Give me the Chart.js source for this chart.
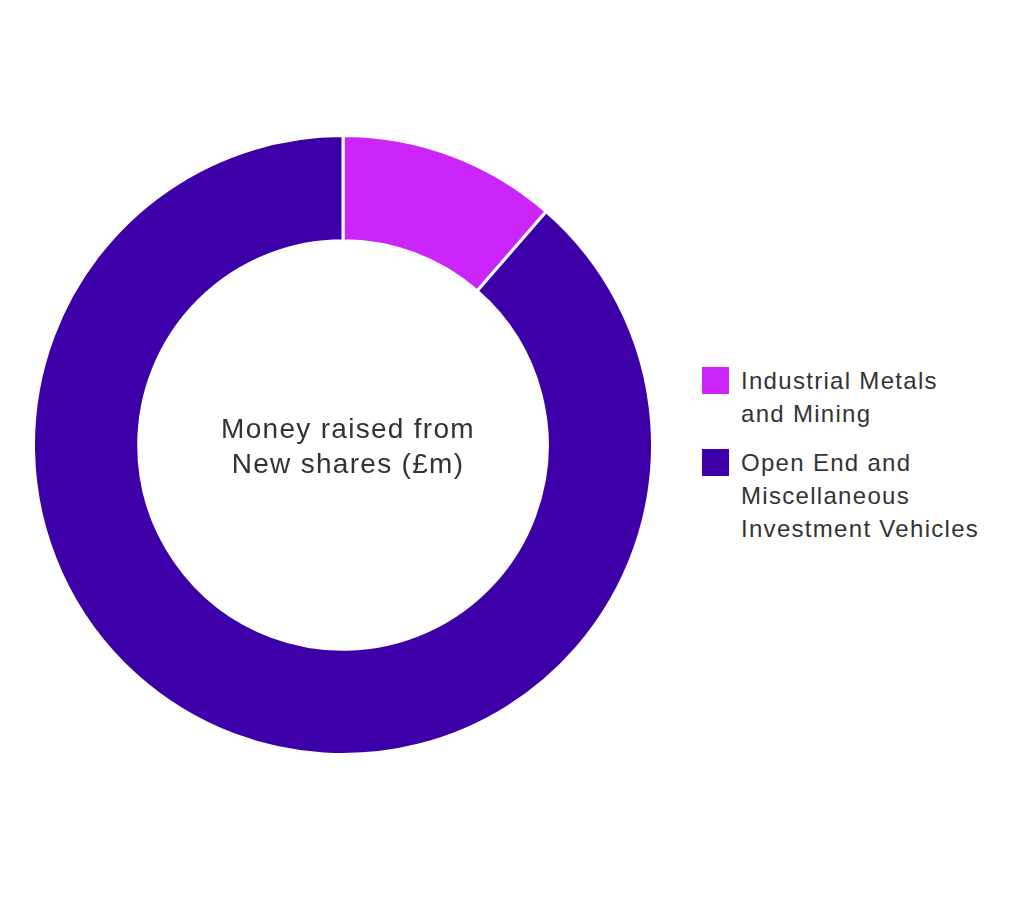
<!DOCTYPE html>
<html>
<head>
<meta charset="utf-8">
<script src="https://cdn.jsdelivr.net/npm/chart.js@4/dist/chart.umd.min.js"></script>
<style>
  body { margin: 0; background: #fff; font-family: "Liberation Sans", Arial, sans-serif; color: #333; }
  #wrap { position: relative; width: 1024px; height: 924px; }
  #donut { position: absolute; left: 32px; top: 134px; width: 622px; height: 622px; }
  .center-text { position: absolute; left: 168px; top: 411px; width: 360px; text-align: center;
    font-size: 28px; line-height: 35px; letter-spacing: 1.3px; color: #333; }
  .legend { position: absolute; left: 702px; top: 364px; }
  .legend-item { position: relative; padding-left: 39px; font-size: 24px; line-height: 33px; letter-spacing: 1.3px;
    margin-bottom: 16px; color: #333; }
  .legend-item .box { position: absolute; left: 0; top: 3px; width: 27px; height: 27px; }
</style>
</head>
<body>
<div id="wrap">
  <div id="donut"><canvas id="chart"></canvas></div>
  <div class="center-text">Money raised from<br>New shares (£m)</div>
  <div class="legend" id="legend"></div>
</div>
<script>
const labels = [
  ['Industrial Metals', 'and Mining'],
  ['Open End and', 'Miscellaneous', 'Investment Vehicles']
];
const values = [11.4, 88.6];
const colors = ['#cb25fa', '#3d00a8'];

const ctx = document.getElementById('chart').getContext('2d');
new Chart(ctx, {
  type: 'doughnut',
  data: {
    labels: labels.map(l => l.join(' ')),
    datasets: [{
      data: values,
      backgroundColor: colors,
      borderColor: '#ffffff',
      borderWidth: 3
    }]
  },
  options: {
    responsive: true,
    maintainAspectRatio: false,
    animation: false,
    cutout: '66%',
    plugins: {
      legend: { display: false },
      tooltip: { enabled: false }
    }
  }
});

// legend built from the same arrays
const legend = document.getElementById('legend');
labels.forEach((lines, i) => {
  const item = document.createElement('div');
  item.className = 'legend-item';
  item.innerHTML = '<span class="box" style="background:' + colors[i] + '"></span>' + lines.join('<br>');
  legend.appendChild(item);
});
</script>
</body>
</html>
